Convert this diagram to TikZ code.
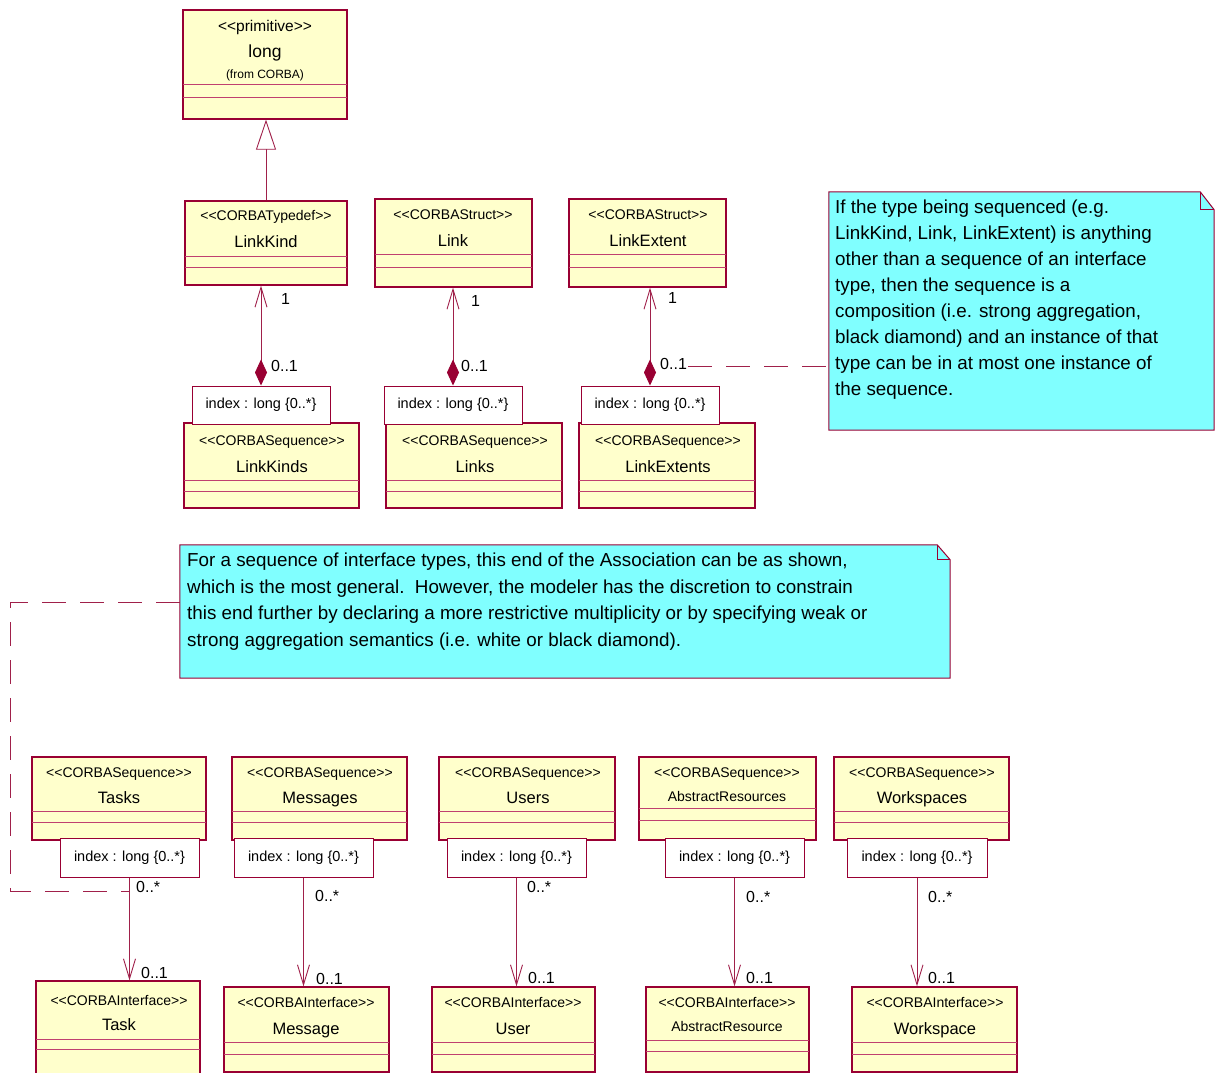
\documentclass[tikz,border=0pt]{standalone}
\usepackage{fontspec}
\setmainfont{Liberation Sans}
\usetikzlibrary{arrows.meta,fit}
\definecolor{bord}{HTML}{990033}
\definecolor{cline}{HTML}{C04070}
\definecolor{clsfill}{HTML}{FFFFCC}
\definecolor{notefill}{HTML}{80FFFF}
\definecolor{conn}{HTML}{A0204A}
\newcommand{\stp}[1]{<{}<#1>{}>}
\newcommand{\umlbox}[7]{%
  \node[clsbox, fit={(#2,#3)(#4,#5)}] (#1) {};
  \draw[compline] (#2,#6) -- (#4,#6);
  \draw[compline] (#2,#7) -- (#4,#7);
  \draw[clsborder] (#1.north west) rectangle (#1.south east);}
\newcommand{\idxbox}[5]{%
  \node[idxbox, fit={(#2,#3)(#4,#5)}] (#1) {};
  \node[idxtext] at (#1.center) {index : long \{0..*\}};}
\tikzset{
  clsbox/.style={draw=bord, fill=clsfill, line width=1.3pt, inner sep=0pt},
  clsborder/.style={draw=bord, line width=1.3pt},
  idxbox/.style={draw=bord, fill=white, line width=1pt, inner sep=0pt},
  compline/.style={draw=cline, line width=1pt},
  stereo/.style={font=\fontsize{14}{16}\selectfont, inner sep=0pt, anchor=base},
  cname/.style={font=\fontsize{16.5}{18}\selectfont, inner sep=0pt, anchor=base},
  cnamesm/.style={font=\fontsize{14}{16}\selectfont, inner sep=0pt, anchor=base},
  idxtext/.style={font=\fontsize{14.5}{16}\selectfont, inner sep=0pt, anchor=center},
  mult/.style={font=\fontsize{16}{18}\selectfont, inner sep=0pt, anchor=west},
  assoc/.style={draw=conn, line width=0.9pt},
  navarrow/.style={-{Straight Barb[length=20pt,width=12pt,line width=0.9pt]}},
  comparrow/.style={{Diamond[length=26pt,width=12pt,fill=bord,color=bord]}-{Straight Barb[length=20pt,width=12pt,line width=0.9pt]}},
  genarrow/.style={-{Triangle[open,length=30pt,width=20pt,fill=white,line width=0.9pt]}},
  notebox/.style={draw=bord, fill=notefill, line width=1pt},
  notetext/.style={font=\fontsize{18.8}{26}\selectfont, inner sep=0pt, anchor=north west, align=left},
  notelink/.style={draw=conn, line width=0.9pt, dash pattern=on 24pt off 14pt},
}
\begin{document}
\begin{tikzpicture}[x=1pt,y=-1pt]
\useasboundingbox (0,0) rectangle (1215,1073);
\fill[white] (0,0) rectangle (1215,1073);
\clip (0,0) rectangle (1215,1073);

% ---------- top classes
\umlbox{long}{183}{10}{347}{119}{84}{97}
\node[stereo, font=\fontsize{15.5}{17}\selectfont] at (265,32) {\stp{primitive}};
\node[cname, font=\fontsize{17.5}{19}\selectfont] at (265,57.5) {long};
\node[stereo, font=\fontsize{12}{14}\selectfont] at (265,78) {(from CORBA)};

\umlbox{LK}{185}{201}{347}{285}{256}{267}
\node[stereo] at (266,220) {\stp{CORBATypedef}};
\node[cname] at (266,247) {LinkKind};

\umlbox{Lk}{375}{199}{532}{287}{254}{267}
\node[stereo] at (453,219) {\stp{CORBAStruct}};
\node[cname] at (453,246) {Link};

\umlbox{LE}{569}{199}{726}{287}{254}{267}
\node[stereo] at (648,219) {\stp{CORBAStruct}};
\node[cname] at (648,246) {LinkExtent};

\umlbox{LKs}{184}{423}{359}{508}{480}{491}
\node[stereo] at (272,445) {\stp{CORBASequence}};
\node[cname] at (272,472) {LinkKinds};

\umlbox{Lks}{386}{423}{562}{508}{480}{491}
\node[stereo] at (475,445) {\stp{CORBASequence}};
\node[cname] at (475,472) {Links};

\umlbox{LEs}{579}{423}{755}{508}{480}{491}
\node[stereo] at (668,445) {\stp{CORBASequence}};
\node[cname] at (668,472) {LinkExtents};

\idxbox{iLKs}{192}{386}{330}{424}
\idxbox{iLks}{384}{386}{522}{424}
\idxbox{iLEs}{581}{386}{719}{424}

% generalization
\draw[assoc, genarrow] (LK.north) -- (LK.north |- long.south);

% compositions
\draw[assoc, comparrow] (iLKs.north) -- (iLKs.north |- LK.south);
\draw[assoc, comparrow] (iLks.north) -- (iLks.north |- Lk.south);
\draw[assoc, comparrow] (iLEs.north) -- (iLEs.north |- LE.south);
\node[mult] at (281,299) {1};
\node[mult] at (271,366) {0..1};
\node[mult] at (471,301) {1};
\node[mult] at (461,366) {0..1};
\node[mult] at (668,298) {1};
\node[mult] at (660,364) {0..1};

% ---------- note 1
\node[inner sep=0pt, fit={(829,192)(1214,430)}] (note1) {};
\draw[notebox] (note1.north west) -- ([xshift=-14pt]note1.north east) -- ([yshift=-18pt]note1.north east) -- (note1.south east) -- (note1.south west) -- cycle;
\draw[notebox, fill=none] ([xshift=-14pt]note1.north east) |- ([yshift=-18pt]note1.north east);
\node[notetext] at (835,200) {If the type being sequenced (e.g.\\LinkKind, Link, LinkExtent) is anything\\other than a sequence of an interface\\type, then the sequence is a\\composition (i.e. strong aggregation,\\black diamond) and an instance of that\\type can be in at most one instance of\\the sequence.};
\coordinate (c3) at (688,366);
\draw[notelink] (c3) -- (c3 -| note1.west);

% ---------- note 2
\node[inner sep=0pt, fit={(180,545)(950,678)}] (note2) {};
\draw[notebox] (note2.north west) -- ([xshift=-13pt]note2.north east) -- ([yshift=-15pt]note2.north east) -- (note2.south east) -- (note2.south west) -- cycle;
\draw[notebox, fill=none] ([xshift=-13pt]note2.north east) |- ([yshift=-15pt]note2.north east);
\node[notetext, font=\fontsize{18.8}{26.5}\selectfont] at (187,553) {For a sequence of interface types, this end of the Association can be as shown,\\which is the most general.\ \ However, the modeler has the discretion to constrain\\this end further by declaring a more restrictive multiplicity or by specifying weak or\\strong aggregation semantics (i.e. white or black diamond).};

% ---------- bottom sequences
\umlbox{Tasks}{32}{757}{206}{840}{811}{822}
\node[stereo] at (119,777) {\stp{CORBASequence}};
\node[cname] at (119,803) {Tasks};
\umlbox{Msgs}{232}{757}{407}{840}{811}{822}
\node[stereo] at (320,777) {\stp{CORBASequence}};
\node[cname] at (320,803) {Messages};
\umlbox{Users}{439}{757}{615}{840}{811}{822}
\node[stereo] at (528,777) {\stp{CORBASequence}};
\node[cname] at (528,803) {Users};
\umlbox{ARs}{639}{757}{816}{840}{808}{820}
\node[stereo] at (727,777) {\stp{CORBASequence}};
\node[cnamesm] at (727,801) {AbstractResources};
\umlbox{WSs}{834}{757}{1009}{840}{811}{822}
\node[stereo] at (922,777) {\stp{CORBASequence}};
\node[cname] at (922,803) {Workspaces};

\idxbox{iTasks}{60}{838}{199}{877}
\idxbox{iMsgs}{234}{838}{373}{877}
\idxbox{iUsers}{447}{838}{586}{877}
\idxbox{iARs}{665}{838}{804}{877}
\idxbox{iWSs}{847}{838}{987}{877}

% ---------- interfaces
\umlbox{Task}{36}{981}{200}{1090}{1039}{1049}
\node[stereo] at (119,1005) {\stp{CORBAInterface}};
\node[cname] at (119,1030) {Task};
\umlbox{Msg}{224}{987}{389}{1072}{1042}{1054}
\node[stereo] at (306,1007) {\stp{CORBAInterface}};
\node[cname] at (306,1034) {Message};
\umlbox{User}{432}{987}{595}{1072}{1042}{1054}
\node[stereo] at (513,1007) {\stp{CORBAInterface}};
\node[cname] at (513,1034) {User};
\umlbox{AR}{646}{987}{809}{1072}{1040}{1051}
\node[stereo] at (727,1007) {\stp{CORBAInterface}};
\node[cnamesm] at (727,1031) {AbstractResource};
\umlbox{WS}{852}{987}{1017}{1072}{1042}{1054}
\node[stereo] at (935,1007) {\stp{CORBAInterface}};
\node[cname] at (935,1034) {Workspace};

% ---------- associations
\draw[assoc, navarrow] (iTasks.south) -- (iTasks.south |- Task.north);
\draw[assoc, navarrow] (iMsgs.south) -- (iMsgs.south |- Msg.north);
\draw[assoc, navarrow] (iUsers.south) -- (iUsers.south |- User.north);
\draw[assoc, navarrow] (iARs.south) -- (iARs.south |- AR.north);
\draw[assoc, navarrow] (iWSs.south) -- (iWSs.south |- WS.north);
\node[mult] at (136,887) {0..*};
\node[mult] at (141,973) {0..1};
\node[mult] at (315,896) {0..*};
\node[mult] at (316,979) {0..1};
\node[mult] at (527,887) {0..*};
\node[mult] at (528,978) {0..1};
\node[mult] at (746,897) {0..*};
\node[mult] at (746,978) {0..1};
\node[mult] at (928,897) {0..*};
\node[mult] at (928,978) {0..1};

% note 2 link
\coordinate (c1) at (10,891);
\coordinate (c2) at (iTasks.south |- c1);
\draw[notelink] ([yshift=9.5pt]note2.west) -| (c1) -- (c2);
\end{tikzpicture}
\end{document}
